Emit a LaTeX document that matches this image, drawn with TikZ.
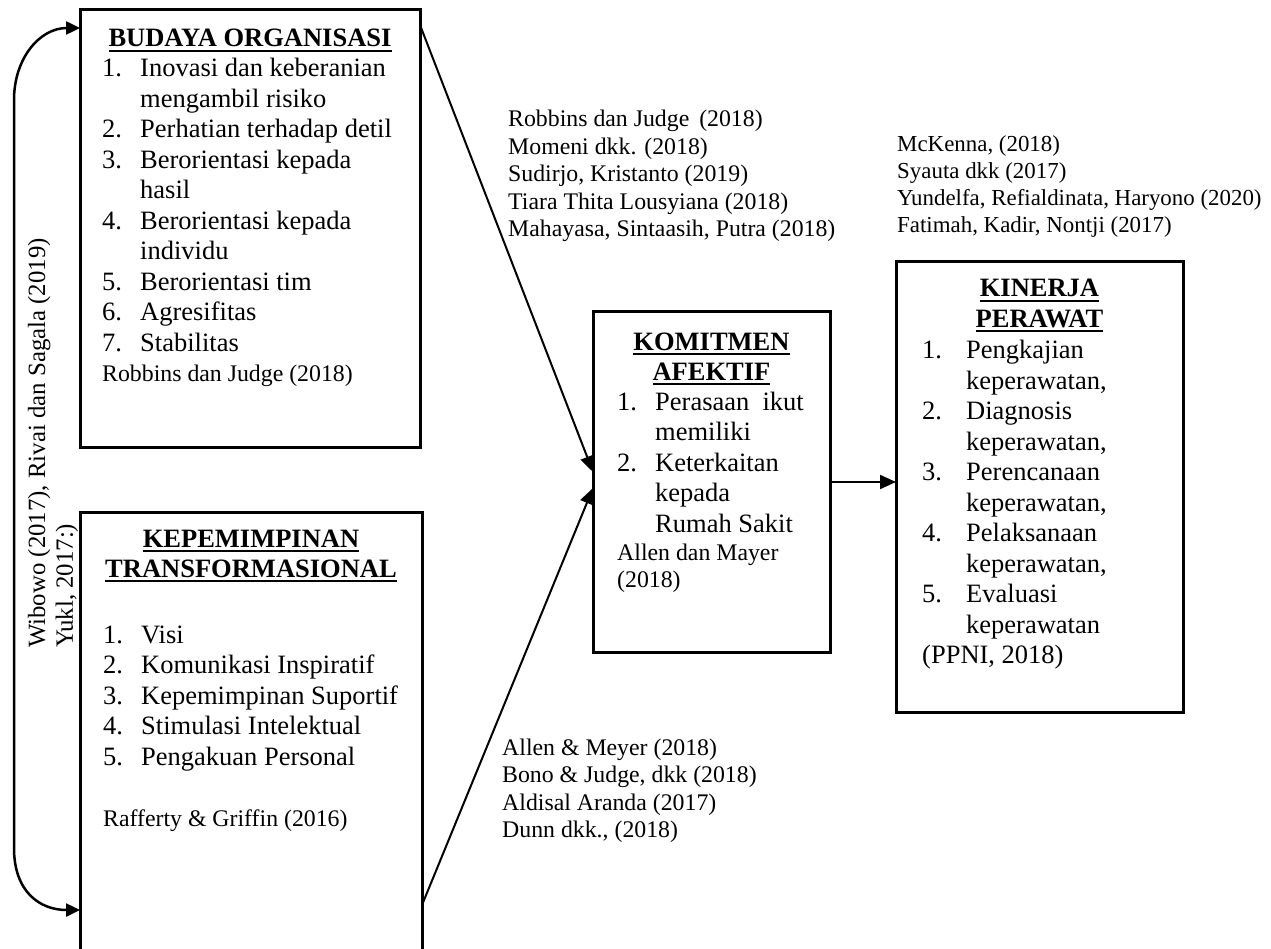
\documentclass[tikz,border=0pt]{standalone}
\usepackage{fontspec}
\setmainfont{Liberation Serif}
\usetikzlibrary{arrows.meta,calc}
\newcommand\mainsz{\fontsize{26.5}{30.5}\selectfont}
\newcommand\citesz{\fontsize{23.8}{27.5}\selectfont}
\newcommand\citeszr{\fontsize{22.9}{27}\selectfont}
\newcommand\rotsz{\fontsize{24.8}{28}\selectfont}
\newcommand\uln[1]{\leavevmode\vtop{\hbox{#1}\kern2.5pt\hrule height 2pt}}
\tikzset{
  box/.style={draw, line width=3pt, inner sep=0pt, outer sep=0pt, rectangle},
  ttl/.style={font=\mainsz\bfseries, anchor=base, inner sep=0pt},
  lst/.style={font=\mainsz, anchor=base west, inner sep=0pt},
  cite/.style={font=\citesz, anchor=base west, inner sep=0pt},
  conn/.style={line width=2pt, -{Triangle[length=16pt,width=14pt]}},
  curv/.style={line width=2.5pt, {Triangle[length=14pt,width=13pt]}-{Triangle[length=14pt,width=13pt]}}
}
\begin{document}
\begin{tikzpicture}[x=1pt,y=-1pt]
\useasboundingbox (0,0) rectangle (1271,949);
% boxes
\node[box, minimum width=340pt, minimum height=437pt] (bo) at (250,228.5) {};
\node[box, minimum width=342pt, minimum height=448pt] (kp) at (251,736) {};
\node[box, minimum width=237pt, minimum height=340pt] (ka) at (711.5,482) {};
\node[box, minimum width=287pt, minimum height=450pt] (kn) at (1039.5,487) {};
% BUDAYA ORGANISASI
\node[ttl] (bot) at (250,47) {\uln{BUDAYA ORGANISASI}};
\node[lst] (bol) at (102,77) {\begin{tabular}[t]{@{}p{38pt}@{}l@{}}
1. & Inovasi dan keberanian\\
 & mengambil risiko\\
2. & Perhatian terhadap detil\\
3. & Berorientasi kepada\\
 & hasil\\
4. & Berorientasi kepada\\
 & individu\\
5. & Berorientasi tim\\
6. & Agresifitas\\
7. & Stabilitas\\
\multicolumn{2}{@{}l@{}}{\citesz Robbins dan Judge (2018)}
\end{tabular}};
% KEPEMIMPINAN
\node[ttl] (kpt) at (251,547) {\begin{tabular}[t]{@{}c@{}}\uln{KEPEMIMPINAN}\\\uln{TRANSFORMASIONAL}\end{tabular}};
\node[lst] (kpl) at (103,643) {\begin{tabular}[t]{@{}p{38pt}@{}l@{}}
1. & Visi\\
2. & Komunikasi Inspiratif\\
3. & Kepemimpinan Suportif\\
4. & Stimulasi Intelektual\\
5. & Pengakuan Personal\\
 & \\
\multicolumn{2}{@{}l@{}}{\citesz Rafferty \& Griffin (2016)}
\end{tabular}};
% KOMITMEN AFEKTIF
\node[ttl] (kat) at (711.5,350) {\begin{tabular}[t]{@{}c@{}}\uln{KOMITMEN}\\\uln{AFEKTIF}\end{tabular}};
\node[lst] (kal) at (617,410) {\begin{tabular}[t]{@{}p{38pt}@{}l@{}}
1. & Perasaan\ \ ikut\\
 & memiliki\\
2. & Keterkaitan\\
 & kepada\\
 & Rumah Sakit
\end{tabular}};
\node[cite] (kac) at (617,560) {\begin{tabular}[t]{@{}l@{}}Allen dan Mayer\\(2018)\end{tabular}};
% KINERJA PERAWAT
\node[ttl] (knt) at (1039.5,297) {\begin{tabular}[t]{@{}c@{}}\uln{KINERJA}\\\uln{PERAWAT}\end{tabular}};
\node[lst] (knl) at (922,359) {\begin{tabular}[t]{@{}p{44pt}@{}l@{}}
1. & Pengkajian\\
 & keperawatan,\\
2. & Diagnosis\\
 & keperawatan,\\
3. & Perencanaan\\
 & keperawatan,\\
4. & Pelaksanaan\\
 & keperawatan,\\
5. & Evaluasi\\
 & keperawatan\\
\multicolumn{2}{@{}l@{}}{(PPNI, 2018)}
\end{tabular}};
% citation blocks
\node[cite] (c1) at (508,127) {\begin{tabular}[t]{@{}l@{}}
Robbins dan Judge~\,(2018)\\
Momeni dkk. (2018)\\
Sudirjo, Kristanto (2019)\\
Tiara Thita Lousyiana (2018)\\
Mahayasa, Sintaasih, Putra (2018)
\end{tabular}};
\node[cite, font=\citeszr] (c2) at (897,152) {\begin{tabular}[t]{@{}l@{}}
McKenna, (2018)\\
Syauta dkk (2017)\\
Yundelfa, Refialdinata, Haryono (2020)\\
Fatimah, Kadir, Nontji (2017)
\end{tabular}};
\node[cite] (c3) at (502,755) {\begin{tabular}[t]{@{}l@{}}
Allen \& Meyer (2018)\\
Bono \& Judge, dkk (2018)\\
Aldisal Aranda (2017)\\
Dunn dkk., (2018)
\end{tabular}};
% rotated text
\node[font=\rotsz, anchor=base west, inner sep=0pt, rotate=90] (rot) at (45,648) {\begin{tabular}[t]{@{}l@{}}Wibowo (2017), Rivai dan Sagala (2019)\\Yukl, 2017:)\end{tabular}};
% connectors
\draw[conn] ($(bo.north east)+(0,15)$) -- ($(ka.west)+(0,-10)$);
\draw[conn] ($(kp.north east)+(0,393)$) -- ($(ka.west)+(0,6)$);
\draw[conn] (ka.east) -- (ka.east -| kn.west);
\coordinate (w1) at (14,100);
\coordinate (w2) at (14,848);
\draw[curv] ($(bo.north west)+(0,18)$) .. controls (40,28) and (14,58) .. (w1) -- (w2) .. controls (14,892) and (40,910) .. ($(kp.north west)+(0,398)$);
\end{tikzpicture}
\end{document}
